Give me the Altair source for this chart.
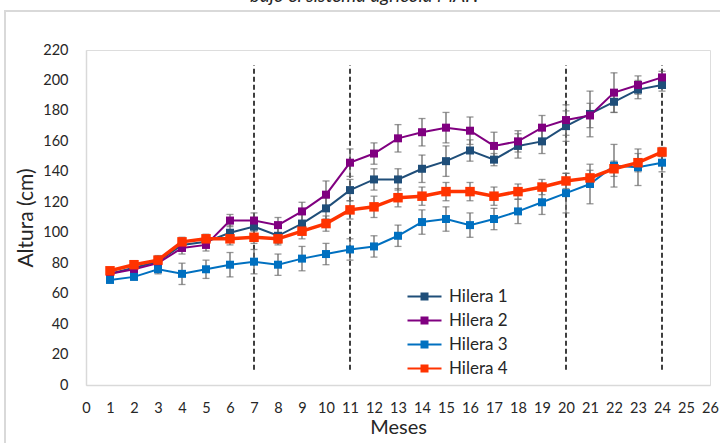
import altair as alt
import pandas as pd

months = list(range(1, 25))
series = ["Hilera 1", "Hilera 2", "Hilera 3", "Hilera 4"]
colors = ["#1F4E79", "#800080", "#0070C0", "#FF3300"]

h1 = [73, 77, 81, 92, 94, 100, 104, 98, 106, 116, 128, 135, 135, 142, 147, 154, 148, 157, 160, 170, 178, 186, 194, 197]
h1_err = [2, 3, 3, 4, 4, 5, 6, 5, 6, 7, 7, 7, 7, 9, 10, 7, 4, 8, 8, 10, 15, 7, 6, 4]
h2 = [73, 76, 80, 90, 92, 108, 108, 105, 114, 125, 146, 152, 162, 166, 169, 167, 157, 160, 169, 174, 177, 192, 197, 202]
h2_err = [2, 3, 3, 4, 4, 4, 5, 5, 6, 9, 9, 7, 9, 9, 10, 9, 9, 7, 8, 10, 8, 13, 6, 4]
h3 = [69, 71, 76, 73, 76, 79, 81, 79, 83, 86, 89, 91, 98, 107, 109, 105, 109, 114, 120, 126, 132, 144, 143, 146]
h3_err = [2, 2, 3, 7, 6, 8, 8, 7, 8, 7, 7, 7, 7, 8, 8, 8, 7, 8, 8, 13, 13, 14, 12, 6]
h4 = [75, 79, 82, 94, 96, 96, 97, 96, 101, 106, 115, 117, 123, 124, 127, 127, 124, 127, 130, 134, 136, 142, 146, 153]
h4_err = [2, 2, 3, 3, 3, 4, 4, 4, 5, 5, 6, 7, 6, 6, 6, 6, 6, 5, 5, 5, 5, 5, 6, 3]

dash_months = [7, 11, 20, 24]
dash_low = 10
dash_high = 210

x_ticks = list(range(0, 27))
y_ticks = list(range(0, 221, 20))

title_text = "bajo el sistema agrícola MAF."

rows = []
for name, vals, errs in zip(series, [h1, h2, h3, h4], [h1_err, h2_err, h3_err, h4_err]):
    for m, v, e in zip(months, vals, errs):
        rows.append({"Mes": m, "Altura": v, "lo": v - e, "hi": v + e, "Hilera": name})
df = pd.DataFrame(rows)
dash_df = pd.DataFrame({"Mes": dash_months, "lo": [dash_low] * 4, "hi": [dash_high] * 4})

FONT = "Lato"
TXT = "#262626"

xs = alt.Scale(domain=[0, 26], nice=False, zero=False)
ys = alt.Scale(domain=[0, 220], nice=False, zero=True)

x_axis = alt.Axis(values=x_ticks, tickCount=27, title="Meses", labelOverlap=False, labelFlush=False)
y_axis = alt.Axis(values=y_ticks, tickCount=12, title="Altura (cm)", labelOverlap=False)

X = lambda f: alt.X(f, type="quantitative", scale=xs, axis=x_axis)
Y = lambda f: alt.Y(f, type="quantitative", scale=ys, axis=y_axis)

color_scale = alt.Scale(domain=series, range=colors)

legend = alt.Legend(
    title=None, orient="none", legendX=330, legendY=238,
    symbolType="M-3.4,0H3.4M-0.8,-0.6H0.8M-0.8,-0.2H0.8M-0.8,0.2H0.8M-0.8,0.6H0.8",
    symbolSize=100, symbolStrokeWidth=2,
    labelFontSize=17, labelFont=FONT, labelColor=TXT,
    labelOffset=16, rowPadding=6, padding=0,
)
C = alt.Color("Hilera:N", scale=color_scale, legend=legend)

base = alt.Chart(df)
main = base.transform_filter(alt.datum.Hilera != "Hilera 4")
h4only = base.transform_filter(alt.datum.Hilera == "Hilera 4")

dashes = alt.Chart(dash_df).mark_rule(color="#000000", strokeWidth=1.5, strokeDash=[5, 3]).encode(
    x=X("Mes"), y=Y("lo"), y2="hi:Q"
)

err_rule = base.mark_rule(color="#6B6B6B", strokeWidth=1.3).encode(
    x=X("Mes"), y=Y("lo"), y2="hi:Q"
)
err_lo = base.mark_tick(color="#6B6B6B", thickness=1.3, size=7, orient="horizontal").encode(
    x=X("Mes"), y=Y("lo")
)
err_hi = base.mark_tick(color="#6B6B6B", thickness=1.3, size=7, orient="horizontal").encode(
    x=X("Mes"), y=Y("hi")
)

lines_a = main.mark_line(strokeWidth=2).encode(x=X("Mes"), y=Y("Altura"), color=C)
points_a = main.mark_point(shape="square", filled=True, opacity=1, size=64).encode(
    x=X("Mes"), y=Y("Altura"), color=C)
lines_b = h4only.mark_line(strokeWidth=3.5).encode(x=X("Mes"), y=Y("Altura"), color=C)
points_b = h4only.mark_point(shape="square", filled=True, opacity=1, size=90).encode(
    x=X("Mes"), y=Y("Altura"), color=C)

title = base.mark_text(
    fontSize=19, fontStyle="italic", font=FONT, color=TXT, baseline="alphabetic", align="center"
).encode(x=alt.value(278), y=alt.value(-48), text=alt.value(title_text)).transform_filter(
    alt.datum.Mes == 1
).transform_filter(alt.datum.Hilera == "Hilera 1")

frame = base.mark_rect(
    filled=False, stroke="#D9D9D9", strokeWidth=2
).encode(x=alt.value(-81), x2=alt.value(720), y=alt.value(-39), y2=alt.value(460)).transform_filter(
    alt.datum.Mes == 1
).transform_filter(alt.datum.Hilera == "Hilera 1")

chart = alt.layer(dashes, err_rule, err_lo, err_hi, lines_a, points_a, lines_b, points_b, frame, title).properties(
    width=624, height=335,
    autosize=alt.AutoSizeParams(type="none"),
    padding={"left": 86, "top": 50, "right": 10, "bottom": 58},
).configure_view(stroke=None).configure(background="white").configure_axis(
    labelFontSize=14.5, ticks=False, tickSize=0, grid=False,
    domainColor="#D9D9D9", domainWidth=1.5, labelColor=TXT, titleColor=TXT,
    titleFontWeight="normal", labelFont=FONT, titleFont=FONT,
).configure_axisX(labelPadding=16, titlePadding=3, titleFontSize=20).configure_axisY(
    labelPadding=18, titlePadding=6, titleFontSize=21)

chart.save("out.html", embed_options={"renderer": "svg", "actions": False})
